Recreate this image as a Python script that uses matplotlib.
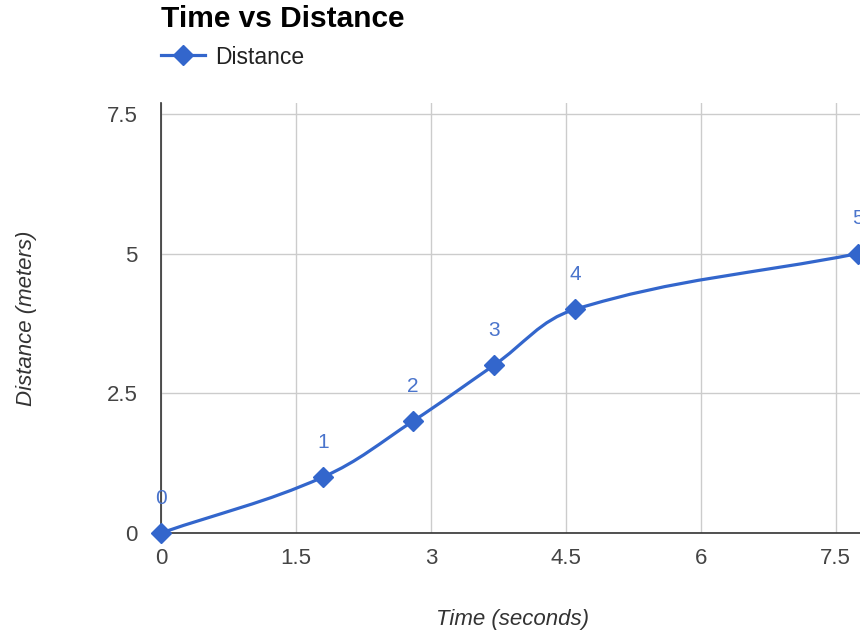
import numpy as np
import matplotlib.pyplot as plt
from matplotlib.path import Path
from matplotlib.patches import PathPatch

# data
time_s = [0, 1.8, 2.8, 3.7, 4.6, 7.75]
distance_m = [0, 1, 2, 3, 4, 5]
point_labels = ['0', '1', '2', '3', '4', '5']
x_ticks = [0, 1.5, 3, 4.5, 6, 7.5]
x_tick_labels = ['0', '1.5', '3', '4.5', '6', '7.5']
y_ticks = [0, 2.5, 5, 7.5]
y_tick_labels = ['0', '2.5', '5', '7.5']

blue = '#3366cc'
plt.rcParams['font.family'] = ['Liberation Sans', 'DejaVu Sans']

fig = plt.figure(figsize=(8.6, 6.32), dpi=100)
ax = fig.add_axes([161/860, 99/632, 699/860, 430/632])
ax.set_xlim(0, 7.77)
ax.set_ylim(0, 430/55.9)

# smooth curve through the points, worked out in pixel space so the
# tension behaves like the original (chart.js style spline)
pix = ax.transData.transform(np.column_stack([time_s, distance_m]))
n = len(pix)
t = 0.38
cp_in = pix.copy()
cp_out = pix.copy()
for i in range(n):
    prev = pix[i - 1] if i > 0 else pix[i]
    nxt = pix[i + 1] if i < n - 1 else pix[i]
    d01 = np.hypot(*(pix[i] - prev))
    d12 = np.hypot(*(nxt - pix[i]))
    if d01 + d12 == 0:
        continue
    fa = t * d01 / (d01 + d12)
    fb = t * d12 / (d01 + d12)
    cp_in[i] = pix[i] - fa * (nxt - prev)
    cp_out[i] = pix[i] + fb * (nxt - prev)
verts = [pix[0]]
codes = [Path.MOVETO]
for i in range(n - 1):
    verts += [cp_out[i], cp_in[i + 1], pix[i + 1]]
    codes += [Path.CURVE4] * 3
verts = ax.transData.inverted().transform(np.array(verts))
ax.add_patch(PathPatch(Path(verts, codes), fill=False, edgecolor=blue,
                       lw=2.3, zorder=3, clip_on=False))
ax.plot(time_s, distance_m, linestyle='none', marker='D', ms=10.5,
        color=blue, zorder=4, clip_on=False, label='Distance')

for x, y, lab in zip(time_s, distance_m, point_labels):
    ax.annotate(lab, (x, y), xytext=(0, 18), textcoords='offset points',
                ha='center', va='bottom', color='#4a74cc', fontsize=15,
                annotation_clip=False)

ax.set_xticks(x_ticks)
ax.set_xticklabels(x_tick_labels)
ax.set_yticks(y_ticks)
ax.set_yticklabels(y_tick_labels)
ax.tick_params(length=0, labelsize=16, labelcolor='#444444')
ax.tick_params(axis='x', pad=11)
ax.tick_params(axis='y', pad=17)
ax.grid(True, color='#cccccc', lw=1)
ax.set_axisbelow(True)
for s in ['top', 'right']:
    ax.spines[s].set_visible(False)
for s in ['left', 'bottom']:
    ax.spines[s].set_color('#333333')
    ax.spines[s].set_linewidth(1.2)

ax.set_xlabel('Time (seconds)', fontsize=16, style='italic', color='#333333')
ax.set_ylabel('Distance (meters)', fontsize=16, style='italic', color='#333333')
ax.xaxis.label.set_va('center')
ax.yaxis.label.set_va('center')
ax.xaxis.set_label_coords(351/699, -86/430)
ax.yaxis.set_label_coords(-134/699, 215/430)

fig.text(161/860, 1 - 19/632, 'Time vs Distance', fontsize=21.5,
         fontweight='bold', va='center', ha='left')

leg = ax.legend(loc='center left', bbox_to_anchor=(161/860, 1 - 57/632),
                bbox_transform=fig.transFigure, borderaxespad=0, borderpad=0,
                frameon=False, fontsize=16.5, handlelength=1.92,
                handletextpad=0.44, labelcolor='#222222')
leg.legend_handles[0].set_linestyle('-')
leg.legend_handles[0].set_linewidth(2.3)

fig.savefig('out.png', dpi=100)
